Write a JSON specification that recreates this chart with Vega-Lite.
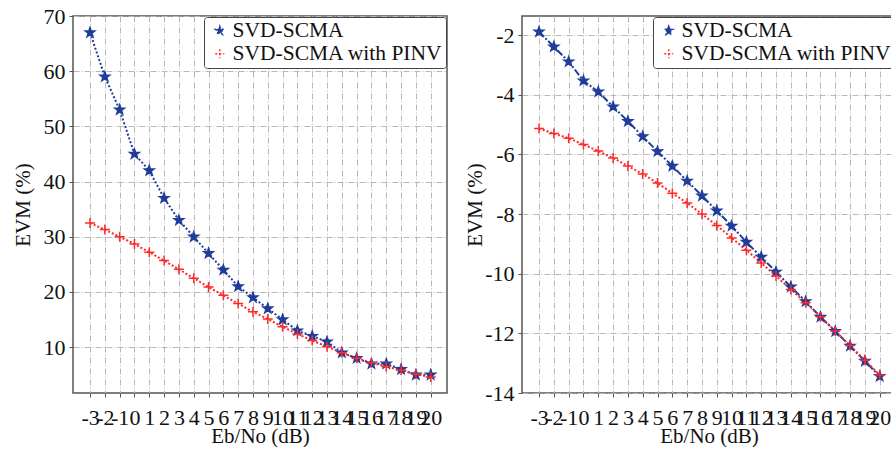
{
  "$schema": "https://vega.github.io/schema/vega-lite/v6.json",
  "padding": {"left": 11, "top": 4, "right": 0, "bottom": 0},
  "background": "white",
  "datasets": {
    "left": [
      {"x": -3, "EVM": 67, "series": "SVD-SCMA"},
      {"x": -2, "EVM": 59, "series": "SVD-SCMA"},
      {"x": -1, "EVM": 53, "series": "SVD-SCMA"},
      {"x": 0, "EVM": 45, "series": "SVD-SCMA"},
      {"x": 1, "EVM": 42, "series": "SVD-SCMA"},
      {"x": 2, "EVM": 37, "series": "SVD-SCMA"},
      {"x": 3, "EVM": 33, "series": "SVD-SCMA"},
      {"x": 4, "EVM": 30, "series": "SVD-SCMA"},
      {"x": 5, "EVM": 27, "series": "SVD-SCMA"},
      {"x": 6, "EVM": 24, "series": "SVD-SCMA"},
      {"x": 7, "EVM": 21, "series": "SVD-SCMA"},
      {"x": 8, "EVM": 19, "series": "SVD-SCMA"},
      {"x": 9, "EVM": 17, "series": "SVD-SCMA"},
      {"x": 10, "EVM": 15, "series": "SVD-SCMA"},
      {"x": 11, "EVM": 13, "series": "SVD-SCMA"},
      {"x": 12, "EVM": 12, "series": "SVD-SCMA"},
      {"x": 13, "EVM": 11, "series": "SVD-SCMA"},
      {"x": 14, "EVM": 9, "series": "SVD-SCMA"},
      {"x": 15, "EVM": 8, "series": "SVD-SCMA"},
      {"x": 16, "EVM": 7, "series": "SVD-SCMA"},
      {"x": 17, "EVM": 7, "series": "SVD-SCMA"},
      {"x": 18, "EVM": 6, "series": "SVD-SCMA"},
      {"x": 19, "EVM": 5, "series": "SVD-SCMA"},
      {"x": 20, "EVM": 5, "series": "SVD-SCMA"},
      {"x": -3, "EVM": 32.5, "series": "SVD-SCMA with PINV"},
      {"x": -2, "EVM": 31.3, "series": "SVD-SCMA with PINV"},
      {"x": -1, "EVM": 30.0, "series": "SVD-SCMA with PINV"},
      {"x": 0, "EVM": 28.7, "series": "SVD-SCMA with PINV"},
      {"x": 1, "EVM": 27.2, "series": "SVD-SCMA with PINV"},
      {"x": 2, "EVM": 25.7, "series": "SVD-SCMA with PINV"},
      {"x": 3, "EVM": 24.1, "series": "SVD-SCMA with PINV"},
      {"x": 4, "EVM": 22.5, "series": "SVD-SCMA with PINV"},
      {"x": 5, "EVM": 20.9, "series": "SVD-SCMA with PINV"},
      {"x": 6, "EVM": 19.4, "series": "SVD-SCMA with PINV"},
      {"x": 7, "EVM": 17.9, "series": "SVD-SCMA with PINV"},
      {"x": 8, "EVM": 16.4, "series": "SVD-SCMA with PINV"},
      {"x": 9, "EVM": 15.1, "series": "SVD-SCMA with PINV"},
      {"x": 10, "EVM": 13.7, "series": "SVD-SCMA with PINV"},
      {"x": 11, "EVM": 12.4, "series": "SVD-SCMA with PINV"},
      {"x": 12, "EVM": 11.2, "series": "SVD-SCMA with PINV"},
      {"x": 13, "EVM": 10.1, "series": "SVD-SCMA with PINV"},
      {"x": 14, "EVM": 9.0, "series": "SVD-SCMA with PINV"},
      {"x": 15, "EVM": 8.0, "series": "SVD-SCMA with PINV"},
      {"x": 16, "EVM": 7.2, "series": "SVD-SCMA with PINV"},
      {"x": 17, "EVM": 6.5, "series": "SVD-SCMA with PINV"},
      {"x": 18, "EVM": 5.8, "series": "SVD-SCMA with PINV"},
      {"x": 19, "EVM": 5.1, "series": "SVD-SCMA with PINV"},
      {"x": 20, "EVM": 4.6, "series": "SVD-SCMA with PINV"}
    ],
    "right": [
      {"x": -3, "EVM": -1.89, "series": "SVD-SCMA"},
      {"x": -2, "EVM": -2.39, "series": "SVD-SCMA"},
      {"x": -1, "EVM": -2.89, "series": "SVD-SCMA"},
      {"x": 0, "EVM": -3.53, "series": "SVD-SCMA"},
      {"x": 1, "EVM": -3.9, "series": "SVD-SCMA"},
      {"x": 2, "EVM": -4.4, "series": "SVD-SCMA"},
      {"x": 3, "EVM": -4.89, "series": "SVD-SCMA"},
      {"x": 4, "EVM": -5.4, "series": "SVD-SCMA"},
      {"x": 5, "EVM": -5.9, "series": "SVD-SCMA"},
      {"x": 6, "EVM": -6.39, "series": "SVD-SCMA"},
      {"x": 7, "EVM": -6.89, "series": "SVD-SCMA"},
      {"x": 8, "EVM": -7.39, "series": "SVD-SCMA"},
      {"x": 9, "EVM": -7.89, "series": "SVD-SCMA"},
      {"x": 10, "EVM": -8.4, "series": "SVD-SCMA"},
      {"x": 11, "EVM": -8.94, "series": "SVD-SCMA"},
      {"x": 12, "EVM": -9.44, "series": "SVD-SCMA"},
      {"x": 13, "EVM": -9.94, "series": "SVD-SCMA"},
      {"x": 14, "EVM": -10.44, "series": "SVD-SCMA"},
      {"x": 15, "EVM": -10.93, "series": "SVD-SCMA"},
      {"x": 16, "EVM": -11.45, "series": "SVD-SCMA"},
      {"x": 17, "EVM": -11.93, "series": "SVD-SCMA"},
      {"x": 18, "EVM": -12.42, "series": "SVD-SCMA"},
      {"x": 19, "EVM": -12.93, "series": "SVD-SCMA"},
      {"x": 20, "EVM": -13.44, "series": "SVD-SCMA"},
      {"x": -3, "EVM": -5.13, "series": "SVD-SCMA with PINV"},
      {"x": -2, "EVM": -5.3, "series": "SVD-SCMA with PINV"},
      {"x": -1, "EVM": -5.46, "series": "SVD-SCMA with PINV"},
      {"x": 0, "EVM": -5.67, "series": "SVD-SCMA with PINV"},
      {"x": 1, "EVM": -5.89, "series": "SVD-SCMA with PINV"},
      {"x": 2, "EVM": -6.12, "series": "SVD-SCMA with PINV"},
      {"x": 3, "EVM": -6.39, "series": "SVD-SCMA with PINV"},
      {"x": 4, "EVM": -6.66, "series": "SVD-SCMA with PINV"},
      {"x": 5, "EVM": -6.96, "series": "SVD-SCMA with PINV"},
      {"x": 6, "EVM": -7.3, "series": "SVD-SCMA with PINV"},
      {"x": 7, "EVM": -7.63, "series": "SVD-SCMA with PINV"},
      {"x": 8, "EVM": -8.0, "series": "SVD-SCMA with PINV"},
      {"x": 9, "EVM": -8.38, "series": "SVD-SCMA with PINV"},
      {"x": 10, "EVM": -8.8, "series": "SVD-SCMA with PINV"},
      {"x": 11, "EVM": -9.21, "series": "SVD-SCMA with PINV"},
      {"x": 12, "EVM": -9.64, "series": "SVD-SCMA with PINV"},
      {"x": 13, "EVM": -10.08, "series": "SVD-SCMA with PINV"},
      {"x": 14, "EVM": -10.53, "series": "SVD-SCMA with PINV"},
      {"x": 15, "EVM": -10.97, "series": "SVD-SCMA with PINV"},
      {"x": 16, "EVM": -11.44, "series": "SVD-SCMA with PINV"},
      {"x": 17, "EVM": -11.92, "series": "SVD-SCMA with PINV"},
      {"x": 18, "EVM": -12.41, "series": "SVD-SCMA with PINV"},
      {"x": 19, "EVM": -12.9, "series": "SVD-SCMA with PINV"},
      {"x": 20, "EVM": -13.4, "series": "SVD-SCMA with PINV"}
    ]
  },
  "config": {
    "font": "Liberation Serif",
    "view": {"stroke": "#555", "strokeWidth": 1.5},
    "axis": {
      "labelFont": "Liberation Serif", "labelFontSize": 22, "labelColor": "#111",
      "titleFont": "Liberation Serif", "titleFontSize": 21, "titleFontWeight": "normal", "titleColor": "#111",
      "domain": false, "grid": true, "gridColor": "#b8b8b8", "gridDash": [6, 2, 1, 2], "gridWidth": 1,
      "tickColor": "#555", "tickSize": 4, "labelExpr": "'' + datum.value"
    },
    "legend": {
      "title": null, "orient": "top-right", "offset": 1, "padding": 3,
      "strokeColor": "#444", "fillColor": "white", "cornerRadius": 3,
      "labelFont": "Liberation Serif", "labelFontSize": 21.5, "labelColor": "#111", "labelLimit": 0,
      "symbolSize": 81, "symbolStrokeWidth": 1.5, "labelOffset": 2, "symbolOffset": 2, "rowPadding": 0
    }
  },
  "spacing": 75,
  "bounds": "flush",
  "resolve": {
    "scale": {"stroke": "independent", "fill": "independent", "shape": "independent", "strokeDash": "independent"},
    "legend": {"stroke": "independent", "fill": "independent"}
  },
  "hconcat": [
    {
      "width": 374, "height": 377,
      "data": {"name": "left"},
      "encoding": {
        "x": {"field": "x", "type": "quantitative", "scale": {"domain": [-4.15, 21.1], "nice": false, "zero": false},
          "axis": {"values": [-3,-2,-1,0,1,2,3,4,5,6,7,8,9,10,11,12,13,14,15,16,17,18,19,20], "labelOverlap": false, "labelPadding": 10, "title": "Eb/No (dB)", "titlePadding": -3}},
        "y": {"field": "EVM", "type": "quantitative", "scale": {"domain": [1.7, 70], "nice": false, "zero": false},
          "axis": {"values": [10,20,30,40,50,60,70], "title": "EVM (%)", "labelPadding": 4, "titlePadding": 10}}
      },
      "layer": [
        {
          "mark": {"type": "line", "strokeWidth": 2},
          "encoding": {
            "stroke": {"field": "series", "type": "nominal", "scale": {"domain": ["SVD-SCMA", "SVD-SCMA with PINV"], "range": ["#1f3d99", "#ff2a2a"]},
              "legend": {"symbolType": {"expr": "datum.value === 'SVD-SCMA' ? 'M-2.5,0H-2.1M-1.7,0H-1.3M1.3,0H1.7M2.1,0H2.5M0,-1L0.235,-0.324L0.951,-0.309L0.38,0.124L0.588,0.809L0,0.4L-0.588,0.809L-0.38,0.124L-0.951,-0.309L-0.235,-0.324Z' : 'M-2.5,0H-2.1M-1.7,0H-1.3M-1,0H1M0,-1V1M1.3,0H1.7M2.1,0H2.5'"}}},
            "strokeDash": {"field": "series", "type": "nominal", "scale": {"domain": ["SVD-SCMA", "SVD-SCMA with PINV"], "range": [[2, 2], [2, 2]]}, "legend": null}
          }
        },
        {
          "mark": {"type": "point", "strokeWidth": 1.5, "opacity": 1, "size": 100},
          "encoding": {
            "stroke": {"field": "series", "type": "nominal", "scale": {"domain": ["SVD-SCMA", "SVD-SCMA with PINV"], "range": ["#1f3d99", "#ff2a2a"]},
              "legend": {"symbolType": {"expr": "datum.value === 'SVD-SCMA' ? 'M-2.5,0H-2.1M-1.7,0H-1.3M1.3,0H1.7M2.1,0H2.5M0,-1L0.235,-0.324L0.951,-0.309L0.38,0.124L0.588,0.809L0,0.4L-0.588,0.809L-0.38,0.124L-0.951,-0.309L-0.235,-0.324Z' : 'M-2.5,0H-2.1M-1.7,0H-1.3M-1,0H1M0,-1V1M1.3,0H1.7M2.1,0H2.5'"}}},
            "fill": {"field": "series", "type": "nominal", "scale": {"domain": ["SVD-SCMA", "SVD-SCMA with PINV"], "range": ["#1f3d99", "transparent"]},
              "legend": {"symbolType": {"expr": "datum.value === 'SVD-SCMA' ? 'M-2.5,0H-2.1M-1.7,0H-1.3M1.3,0H1.7M2.1,0H2.5M0,-1L0.235,-0.324L0.951,-0.309L0.38,0.124L0.588,0.809L0,0.4L-0.588,0.809L-0.38,0.124L-0.951,-0.309L-0.235,-0.324Z' : 'M-2.5,0H-2.1M-1.7,0H-1.3M-1,0H1M0,-1V1M1.3,0H1.7M2.1,0H2.5'"}}},
            "shape": {"field": "series", "type": "nominal", "scale": {"domain": ["SVD-SCMA", "SVD-SCMA with PINV"], "range": ["M0,-1L0.235,-0.324L0.951,-0.309L0.38,0.124L0.588,0.809L0,0.4L-0.588,0.809L-0.38,0.124L-0.951,-0.309L-0.235,-0.324Z", "M-1,0H1M0,-1V1"]}, "legend": null}
          }
        }
      ]
    },
    {
      "width": 374, "height": 377,
      "data": {"name": "right"},
      "encoding": {
        "x": {"field": "x", "type": "quantitative", "scale": {"domain": [-4.15, 21.1], "nice": false, "zero": false},
          "axis": {"values": [-3,-2,-1,0,1,2,3,4,5,6,7,8,9,10,11,12,13,14,15,16,17,18,19,20], "labelOverlap": false, "labelPadding": 10, "title": "Eb/No (dB)", "titlePadding": -3}},
        "y": {"field": "EVM", "type": "quantitative", "scale": {"domain": [-14, -1.36], "nice": false, "zero": false},
          "axis": {"values": [-14,-12,-10,-8,-6,-4,-2], "title": "EVM (%)", "labelPadding": 4, "titlePadding": -1}}
      },
      "layer": [
        {
          "mark": {"type": "line", "strokeWidth": 2},
          "encoding": {
            "stroke": {"field": "series", "type": "nominal", "scale": {"domain": ["SVD-SCMA", "SVD-SCMA with PINV"], "range": ["#1f3d99", "#ff2a2a"]},
              "legend": {"symbolType": {"expr": "datum.value === 'SVD-SCMA' ? 'M-2.5,0H-2.1M-1.7,0H-1.3M1.3,0H1.7M2.1,0H2.5M0,-1L0.235,-0.324L0.951,-0.309L0.38,0.124L0.588,0.809L0,0.4L-0.588,0.809L-0.38,0.124L-0.951,-0.309L-0.235,-0.324Z' : 'M-2.5,0H-2.1M-1.7,0H-1.3M-1,0H1M0,-1V1M1.3,0H1.7M2.1,0H2.5'"}}},
            "strokeDash": {"field": "series", "type": "nominal", "scale": {"domain": ["SVD-SCMA", "SVD-SCMA with PINV"], "range": [[7, 2, 2, 2], [2, 2]]}, "legend": null}
          }
        },
        {
          "mark": {"type": "point", "strokeWidth": 1.5, "opacity": 1, "size": 100},
          "encoding": {
            "stroke": {"field": "series", "type": "nominal", "scale": {"domain": ["SVD-SCMA", "SVD-SCMA with PINV"], "range": ["#1f3d99", "#ff2a2a"]},
              "legend": {"symbolType": {"expr": "datum.value === 'SVD-SCMA' ? 'M-2.5,0H-2.1M-1.7,0H-1.3M1.3,0H1.7M2.1,0H2.5M0,-1L0.235,-0.324L0.951,-0.309L0.38,0.124L0.588,0.809L0,0.4L-0.588,0.809L-0.38,0.124L-0.951,-0.309L-0.235,-0.324Z' : 'M-2.5,0H-2.1M-1.7,0H-1.3M-1,0H1M0,-1V1M1.3,0H1.7M2.1,0H2.5'"}}},
            "fill": {"field": "series", "type": "nominal", "scale": {"domain": ["SVD-SCMA", "SVD-SCMA with PINV"], "range": ["#1f3d99", "transparent"]},
              "legend": {"symbolType": {"expr": "datum.value === 'SVD-SCMA' ? 'M-2.5,0H-2.1M-1.7,0H-1.3M1.3,0H1.7M2.1,0H2.5M0,-1L0.235,-0.324L0.951,-0.309L0.38,0.124L0.588,0.809L0,0.4L-0.588,0.809L-0.38,0.124L-0.951,-0.309L-0.235,-0.324Z' : 'M-2.5,0H-2.1M-1.7,0H-1.3M-1,0H1M0,-1V1M1.3,0H1.7M2.1,0H2.5'"}}},
            "shape": {"field": "series", "type": "nominal", "scale": {"domain": ["SVD-SCMA", "SVD-SCMA with PINV"], "range": ["M0,-1L0.235,-0.324L0.951,-0.309L0.38,0.124L0.588,0.809L0,0.4L-0.588,0.809L-0.38,0.124L-0.951,-0.309L-0.235,-0.324Z", "M-1,0H1M0,-1V1"]}, "legend": null}
          }
        }
      ]
    }
  ]
}
